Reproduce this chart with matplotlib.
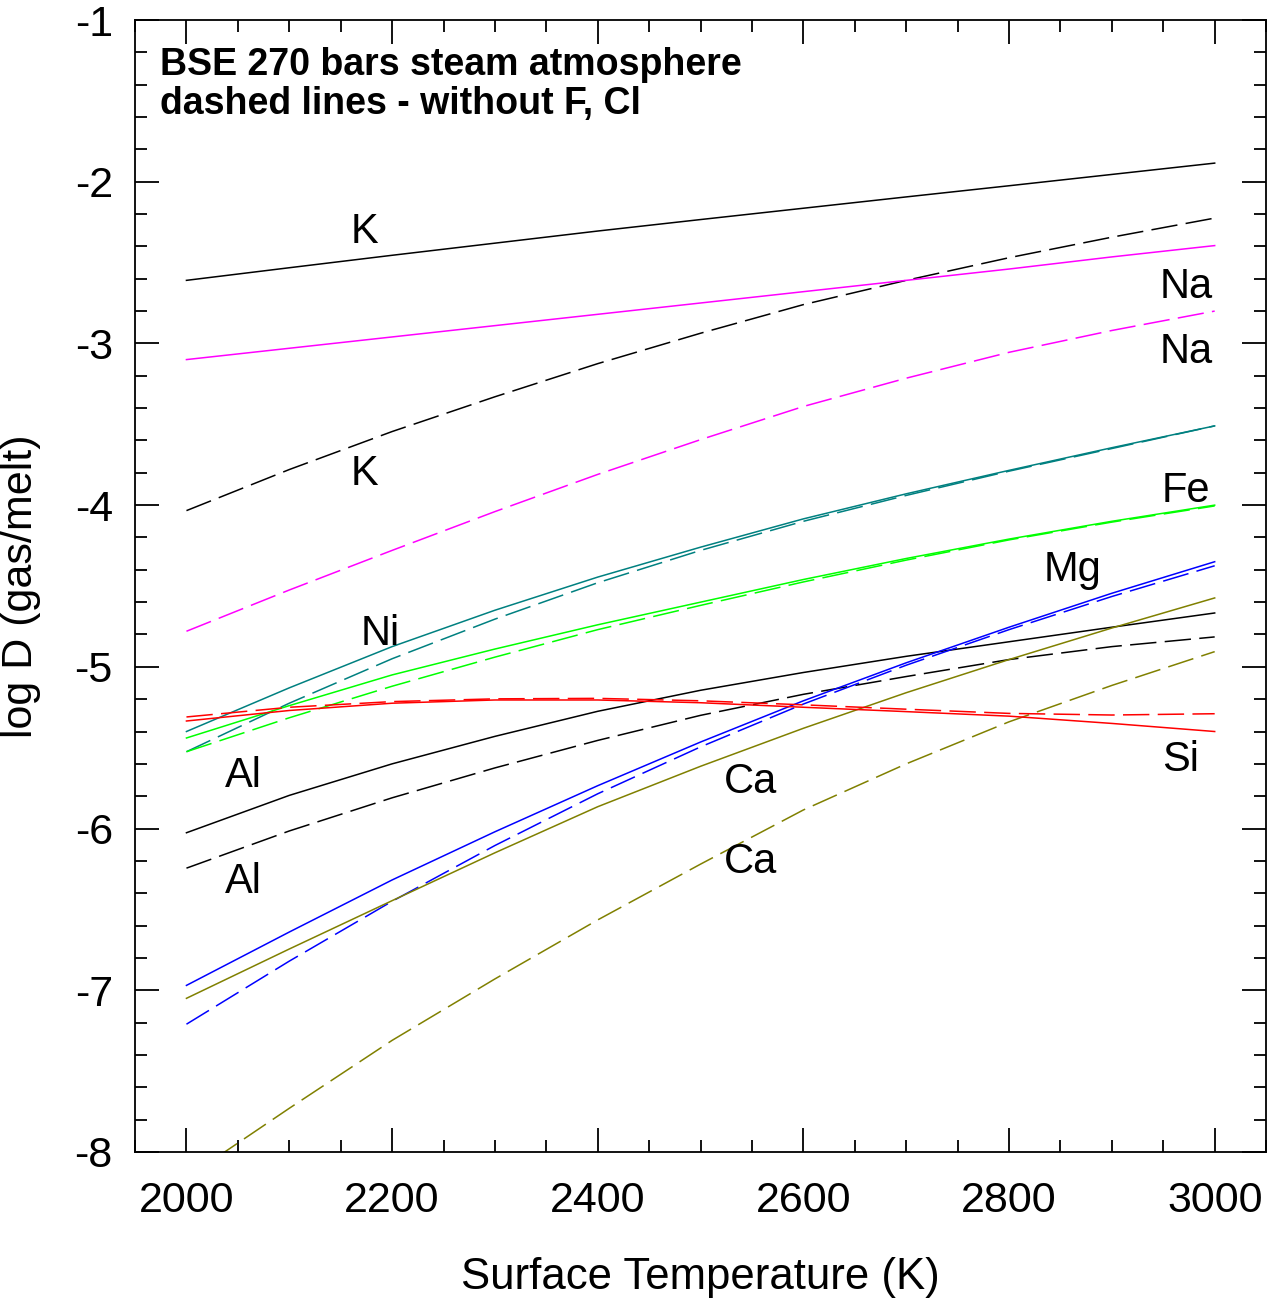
import matplotlib
matplotlib.use("Agg")
import matplotlib.pyplot as plt
from matplotlib.ticker import MultipleLocator

plt.rcParams["font.family"] = ["Liberation Sans", "DejaVu Sans"]
plt.rcParams["axes.unicode_minus"] = False
plt.rcParams["lines.scale_dashes"] = False

# surface temperature (K)
T = [2000, 2100, 2200, 2300, 2400, 2500, 2600, 2700, 2800, 2900, 3000]

# log D (gas/melt), solid = with F, Cl ; dashed = without F, Cl
K_solid = [-2.61, -2.532, -2.455, -2.38, -2.305, -2.234, -2.164, -2.094, -2.025, -1.955, -1.885]
K_dash = [-4.034, -3.78, -3.545, -3.33, -3.125, -2.937, -2.76, -2.61, -2.47, -2.343, -2.225]
Na_solid = [-3.10, -3.03, -2.96, -2.89, -2.82, -2.75, -2.68, -2.61, -2.54, -2.465, -2.395]
Na_dash = [-4.78, -4.525, -4.28, -4.04, -3.81, -3.595, -3.39, -3.215, -3.055, -2.92, -2.80]
Ni_solid = [-5.40, -5.13, -4.875, -4.65, -4.445, -4.26, -4.085, -3.93, -3.785, -3.645, -3.51]
Ni_dash = [-5.525, -5.225, -4.95, -4.705, -4.48, -4.28, -4.10, -3.94, -3.79, -3.65, -3.51]
Fe_solid = [-5.44, -5.24, -5.05, -4.89, -4.74, -4.60, -4.46, -4.33, -4.21, -4.10, -4.00]
Fe_dash = [-5.525, -5.315, -5.12, -4.94, -4.77, -4.62, -4.475, -4.34, -4.215, -4.105, -4.005]
Si_solid = [-5.335, -5.27, -5.225, -5.205, -5.205, -5.222, -5.25, -5.277, -5.305, -5.35, -5.40]
Si_dash = [-5.31, -5.25, -5.215, -5.198, -5.195, -5.21, -5.235, -5.262, -5.288, -5.298, -5.29]
Al_solid = [-6.026, -5.795, -5.600, -5.43, -5.275, -5.145, -5.035, -4.935, -4.845, -4.755, -4.667]
Al_dash = [-6.245, -6.015, -5.81, -5.625, -5.455, -5.30, -5.17, -5.06, -4.955, -4.875, -4.815]
Mg_solid = [-6.97, -6.64, -6.318, -6.02, -5.735, -5.465, -5.21, -4.975, -4.755, -4.545, -4.35]
Mg_dash = [-7.21, -6.82, -6.45, -6.105, -5.785, -5.495, -5.23, -4.99, -4.77, -4.565, -4.375]
Ca_solid = [-7.05, -6.745, -6.446, -6.15, -5.865, -5.615, -5.38, -5.16, -4.955, -4.76, -4.574]
Ca_dash = [-8.16, -7.73, -7.31, -6.93, -6.565, -6.22, -5.885, -5.60, -5.34, -5.115, -4.906]

series = [
    (K_solid, K_dash, "black"),
    (Na_solid, Na_dash, "#ff00ff"),
    (Ni_solid, Ni_dash, "#008080"),
    (Fe_solid, Fe_dash, "#00ff00"),
    (Al_solid, Al_dash, "black"),
    (Mg_solid, Mg_dash, "#0000ff"),
    (Ca_solid, Ca_dash, "#808000"),
    (Si_solid, Si_dash, "#ff0000"),
]

# element labels (text, x, y)
labels = [
    ("K", 2173, -2.31), ("Na", 2972, -2.65), ("Na", 2972, -3.05),
    ("K", 2173, -3.81), ("Fe", 2972, -3.91), ("Mg", 2862, -4.40),
    ("Ni", 2188, -4.80), ("Al", 2055, -5.675), ("Ca", 2549, -5.71),
    ("Si", 2967, -5.575), ("Ca", 2549, -6.21), ("Al", 2055, -6.33),
]

fig = plt.figure(figsize=(12.68, 12.99), dpi=100)
ax = fig.add_axes([0.1065, 0.1132, 0.892, 0.8714])

for solid, dash, color in series:
    ax.plot(T, solid, color=color, lw=1.1)
    ax.plot(T, dash, color=color, lw=1.1, dashes=(19, 6))

for txt, x, y in labels:
    ax.text(x, y, txt, fontsize=30, ha="center", va="center")

ax.text(0.022, 0.976, "BSE 270 bars steam atmosphere\ndashed lines - without F, Cl",
        transform=ax.transAxes, fontsize=27, fontweight="bold", ha="left", va="top",
        linespacing=1.1)

ax.set_xlim(1950, 3050)
ax.set_ylim(-8, -1)
ax.xaxis.set_major_locator(MultipleLocator(200))
ax.xaxis.set_minor_locator(MultipleLocator(50))
ax.yaxis.set_major_locator(MultipleLocator(1))
ax.yaxis.set_minor_locator(MultipleLocator(0.2))
ax.tick_params(which="both", direction="in", top=True, right=True, width=1.3)
ax.tick_params(which="major", length=17)
ax.tick_params(which="minor", length=8.5)
ax.tick_params(axis="x", which="major", pad=21, labelsize=31)
ax.tick_params(axis="y", which="major", pad=16, labelsize=31)
for s in ax.spines.values():
    s.set_linewidth(1.3)

ax.set_xlabel("Surface Temperature (K)", fontsize=31.5, labelpad=26)
ax.set_ylabel("log D (gas/melt)", fontsize=31, labelpad=24)

fig.savefig("out.png", dpi=100)
